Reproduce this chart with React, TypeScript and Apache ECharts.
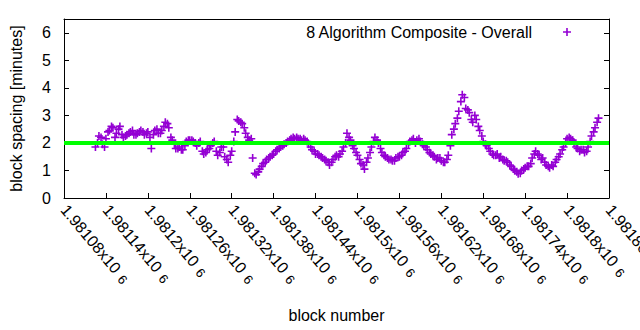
import React, { useEffect, useRef } from "react";
import * as echarts from "echarts";

const seriesName = "8 Algorithm Composite - Overall";
const targetSpacing = 2;
const annotationText = "2 min";
const annotationAt = [1981626, 3.5];

const blockNumbersA = [
  1981125, 1981130, 1981135, 1981140, 1981145, 1981150, 1981155, 1981160, 1981165, 1981170,
  1981175, 1981180, 1981185, 1981190, 1981195, 1981200, 1981205, 1981210, 1981215, 1981220,
  1981225, 1981230, 1981235, 1981240, 1981245, 1981250, 1981255, 1981260, 1981265, 1981270,
  1981275, 1981280, 1981285, 1981290, 1981295, 1981300, 1981305, 1981310, 1981315, 1981320,
  1981325, 1981330, 1981335, 1981340, 1981345, 1981350, 1981355, 1981360, 1981365, 1981370,
  1981375, 1981380, 1981385, 1981390, 1981395, 1981400, 1981405, 1981410, 1981415, 1981420,
  1981425, 1981430, 1981435, 1981440, 1981445, 1981450, 1981455, 1981460, 1981465, 1981470,
  1981475, 1981480, 1981485, 1981490, 1981495, 1981500, 1981505, 1981510, 1981515, 1981520,
  1981525, 1981530, 1981535, 1981540, 1981545, 1981550, 1981555, 1981560, 1981565, 1981570,
  1981575, 1981580, 1981585, 1981590, 1981595, 1981600, 1981605, 1981610, 1981615, 1981620,
  1981625, 1981630, 1981635, 1981640, 1981645, 1981650, 1981655, 1981660, 1981665, 1981670,
  1981675, 1981680, 1981685, 1981690, 1981695, 1981700, 1981705, 1981710, 1981715, 1981720,
  1981725, 1981730, 1981735, 1981740, 1981745, 1981750, 1981755, 1981760, 1981765, 1981770,
  1981775, 1981780, 1981785, 1981790, 1981795, 1981800, 1981805, 1981810, 1981815, 1981820,
  1981825, 1981830, 1981835, 1981840, 1981845,
];

const spacingA = [
  1.85, 2.25, 1.95, 2.15, 2.45, 2.55, 2.35, 2.6, 2.2, 2.3,
  2.4, 2.3, 2.35, 2.45, 2.3, 2.4, 1.8, 2.45, 2.35, 2.45,
  2.75, 2.55, 2.1, 1.8, 1.85, 1.75, 2.05, 2.1, 2.05, 1.9,
  2.05, 1.6, 1.75, 1.9, 2.05, 1.55, 1.85, 1.5, 1.3, 1.7,
  2.4, 2.8, 2.7, 2.35, 2.1, 1.45, 0.85, 1.05, 1.25, 1.4,
  1.5, 1.6, 1.75, 1.85, 1.95, 2.05, 2.15, 2.15, 2.15, 2.1,
  2.1, 1.95, 1.75, 1.6, 1.55, 1.45, 1.35, 1.2, 1.4, 1.55,
  1.6, 1.85, 2.35, 2.1, 1.8, 1.55, 1.25, 1.05, 1.45, 1.85,
  2.2, 2.0, 1.65, 1.5, 1.4, 1.35, 1.45, 1.5, 1.65, 1.8,
  2.05, 2.15, 2.1, 2.05, 1.9, 1.75, 1.6, 1.5, 1.45, 1.35,
  1.3, 1.55, 2.3, 2.7, 3.15, 3.75, 3.25, 3.1, 2.75, 2.85,
  2.45, 2.05, 1.9, 1.7, 1.55, 1.6, 1.5, 1.35, 1.3, 1.15,
  1.0, 0.88, 1.0, 1.1, 1.15, 1.45, 1.7, 1.55, 1.45, 1.2,
  1.1, 1.15, 1.4, 1.6, 1.85, 2.15, 2.15, 2.0, 1.8, 1.75,
  1.65, 1.85, 2.25, 2.55, 2.9,
];

const blockNumbersB = [
  1981128, 1981133, 1981138, 1981143, 1981148, 1981153, 1981158, 1981163, 1981168, 1981173,
  1981178, 1981183, 1981188, 1981193, 1981198, 1981203, 1981208, 1981213, 1981218, 1981223,
  1981228, 1981233, 1981238, 1981243, 1981248, 1981253, 1981258, 1981263, 1981268, 1981273,
  1981278, 1981283, 1981288, 1981293, 1981298, 1981303, 1981308, 1981313, 1981318, 1981323,
  1981328, 1981333, 1981338, 1981343, 1981348, 1981353, 1981358, 1981363, 1981368, 1981373,
  1981378, 1981383, 1981388, 1981393, 1981398, 1981403, 1981408, 1981413, 1981418, 1981423,
  1981428, 1981433, 1981438, 1981443, 1981448, 1981453, 1981458, 1981463, 1981468, 1981473,
  1981478, 1981483, 1981488, 1981493, 1981498, 1981503, 1981508, 1981513, 1981518, 1981523,
  1981528, 1981533, 1981538, 1981543, 1981548, 1981553, 1981558, 1981563, 1981568, 1981573,
  1981578, 1981583, 1981588, 1981593, 1981598, 1981603, 1981608, 1981613, 1981618, 1981623,
  1981628, 1981633, 1981638, 1981643, 1981648, 1981653, 1981658, 1981663, 1981668, 1981673,
  1981678, 1981683, 1981688, 1981693, 1981698, 1981703, 1981708, 1981713, 1981718, 1981723,
  1981728, 1981733, 1981738, 1981743, 1981748, 1981753, 1981758, 1981763, 1981768, 1981773,
  1981778, 1981783, 1981788, 1981793, 1981798, 1981803, 1981808, 1981813, 1981818, 1981823,
  1981828, 1981833, 1981838, 1981843,
];

const spacingB = [
  2.0, 2.2, 1.85, 2.4, 2.6, 2.2, 2.5, 2.3, 2.25, 2.35,
  2.45, 2.3, 2.4, 2.4, 2.35, 2.2, 2.3, 2.5, 2.35, 2.6,
  2.7, 2.2, 1.95, 1.8, 1.75, 1.9, 2.1, 2.1, 2.0, 2.0,
  1.7, 1.65, 1.8, 2.0, 1.7, 1.65, 1.85, 1.4, 1.55, 2.05,
  2.85, 2.75, 2.55, 2.2, 2.15, 0.9, 0.95, 1.15, 1.3, 1.45,
  1.55, 1.7, 1.8, 1.9, 2.0, 2.1, 2.2, 2.2, 2.15, 2.15,
  2.05, 1.85, 1.7, 1.6, 1.5, 1.4, 1.3, 1.3, 1.5, 1.5,
  1.7, 2.0, 2.2, 1.9, 1.65, 1.4, 1.2, 1.3, 1.65, 2.05,
  2.1, 1.8, 1.55, 1.45, 1.4, 1.35, 1.5, 1.55, 1.7, 1.95,
  2.1, 2.0, 2.15, 1.95, 1.85, 1.65, 1.55, 1.4, 1.45, 1.3,
  1.4, 1.9, 2.5, 2.9, 3.5, 3.65, 3.2, 2.85, 3.0, 2.6,
  2.25, 1.95, 1.8, 1.6, 1.55, 1.45, 1.4, 1.35, 1.2, 1.05,
  0.95, 0.9, 1.05, 1.15, 1.25, 1.6, 1.6, 1.4, 1.3, 1.15,
  1.2, 1.3, 1.5, 1.75, 2.0, 2.2, 2.1, 1.85, 1.7, 1.75,
  1.7, 2.05, 2.4, 2.75,
];

const xMin = 1981080;
const xMax = 1981860;
const xStep = 60;
const yMin = 0;
const yMax = 6.5;

const PLUS = "path://M2.8,0h1.4v2.8h2.8v1.4h-2.8v2.8h-1.4v-2.8h-2.8v-1.4h2.8z";
const FONT = "Liberation Sans, Arial, sans-serif";
const FS = 16;

function formatBlock(v: number) {
  const m = (v / 1e6).toFixed(5).replace(/0+$/, "").replace(/\.$/, "");
  return `{a|${m}x10}{s|6}`;
}

export default function App() {
  const ref = useRef<HTMLDivElement>(null);
  useEffect(() => {
    if (!ref.current) return;
    const chart = echarts.init(ref.current, undefined, { renderer: "svg" });
    const points = blockNumbersA
      .map((b, i) => [b, spacingA[i]])
      .concat(blockNumbersB.map((b, i) => [b, spacingB[i]]));
    chart.setOption({
      animation: false,
      textStyle: { fontFamily: FONT },
      grid: {
        left: 64,
        right: 31,
        top: 19,
        bottom: 132,
        containLabel: false,
        outerBoundsMode: "none",
      },
      legend: {
        show: true,
        right: 64,
        top: 19,
        align: "right",
        itemWidth: 60,
        itemHeight: 8,
        itemGap: 0,
        textStyle: { fontFamily: FONT, fontSize: FS, color: "#000" },
        data: [{ name: seriesName, icon: PLUS }],
      },
      xAxis: [
        {
          type: "value",
          min: xMin,
          max: xMax,
          interval: xStep,
          name: "block number",
          nameLocation: "middle",
          nameGap: 109,
          nameTextStyle: { fontFamily: FONT, fontSize: FS, color: "#000" },
          axisLine: { show: true, onZero: false, lineStyle: { color: "#000", width: 1 } },
          axisTick: { show: true, inside: true, length: 5, lineStyle: { color: "#000" } },
          splitLine: { show: false },
          axisLabel: {
            rotate: -50,
            margin: 9,
            hideOverlap: false,
            color: "#000",
            fontFamily: FONT,
            fontSize: FS,
            formatter: formatBlock,
            rich: {
              a: { fontFamily: FONT, fontSize: FS, color: "#000" },
              s: { fontFamily: FONT, fontSize: 13, color: "#000", padding: [4, 0, 0, 6] },
            },
          },
        },
        {
          type: "value",
          position: "top",
          min: xMin,
          max: xMax,
          axisLine: { show: true, onZero: false, lineStyle: { color: "#000", width: 1 } },
          axisTick: { show: false },
          axisLabel: { show: false },
          splitLine: { show: false },
        },
      ],
      yAxis: [
        {
          type: "value",
          min: yMin,
          max: yMax,
          interval: 1,
          name: "block spacing [minutes]",
          nameLocation: "middle",
          nameGap: 40,
          nameTextStyle: { fontFamily: FONT, fontSize: FS, color: "#000" },
          axisLine: { show: true, onZero: false, lineStyle: { color: "#000", width: 1 } },
          axisTick: { show: true, inside: true, length: 5, lineStyle: { color: "#000" } },
          splitLine: { show: false },
          axisLabel: { color: "#000", fontFamily: FONT, fontSize: FS, margin: 13, showMaxLabel: false },
        },
        {
          type: "value",
          position: "right",
          min: yMin,
          max: yMax,
          interval: 1,
          axisLine: { show: true, onZero: false, lineStyle: { color: "#000", width: 1 } },
          axisTick: { show: true, inside: true, length: 5, lineStyle: { color: "#000" } },
          axisLabel: { show: false },
          splitLine: { show: false },
        },
      ],
      series: [
        {
          name: seriesName,
          type: "scatter",
          symbol: PLUS,
          symbolSize: 8,
          itemStyle: { color: "#9400d3", opacity: 1 },
          data: points,
          z: 2,
          markLine: {
            silent: true,
            symbol: "none",
            label: { show: false },
            lineStyle: { color: "#00ff00", width: 4, type: "solid" },
            data: [{ yAxis: targetSpacing }],
            z: 5,
          },
          markPoint: {
            silent: true,
            symbol: "circle",
            symbolSize: 1,
            itemStyle: { opacity: 0 },
            data: [
              {
                coord: annotationAt,
                label: {
                  show: true,
                  formatter: annotationText,
                  position: [0, 0],
                  align: "left",
                  verticalAlign: "middle",
                  color: "#000",
                  fontFamily: FONT,
                  fontSize: FS,
                },
              },
            ],
          },
        },
      ],
    });
    return () => chart.dispose();
  }, []);
  return (
    <div
      ref={ref}
      style={{ position: "absolute", left: 0, top: 0, width: 640, height: 330, background: "#fff" }}
    />
  );
}
